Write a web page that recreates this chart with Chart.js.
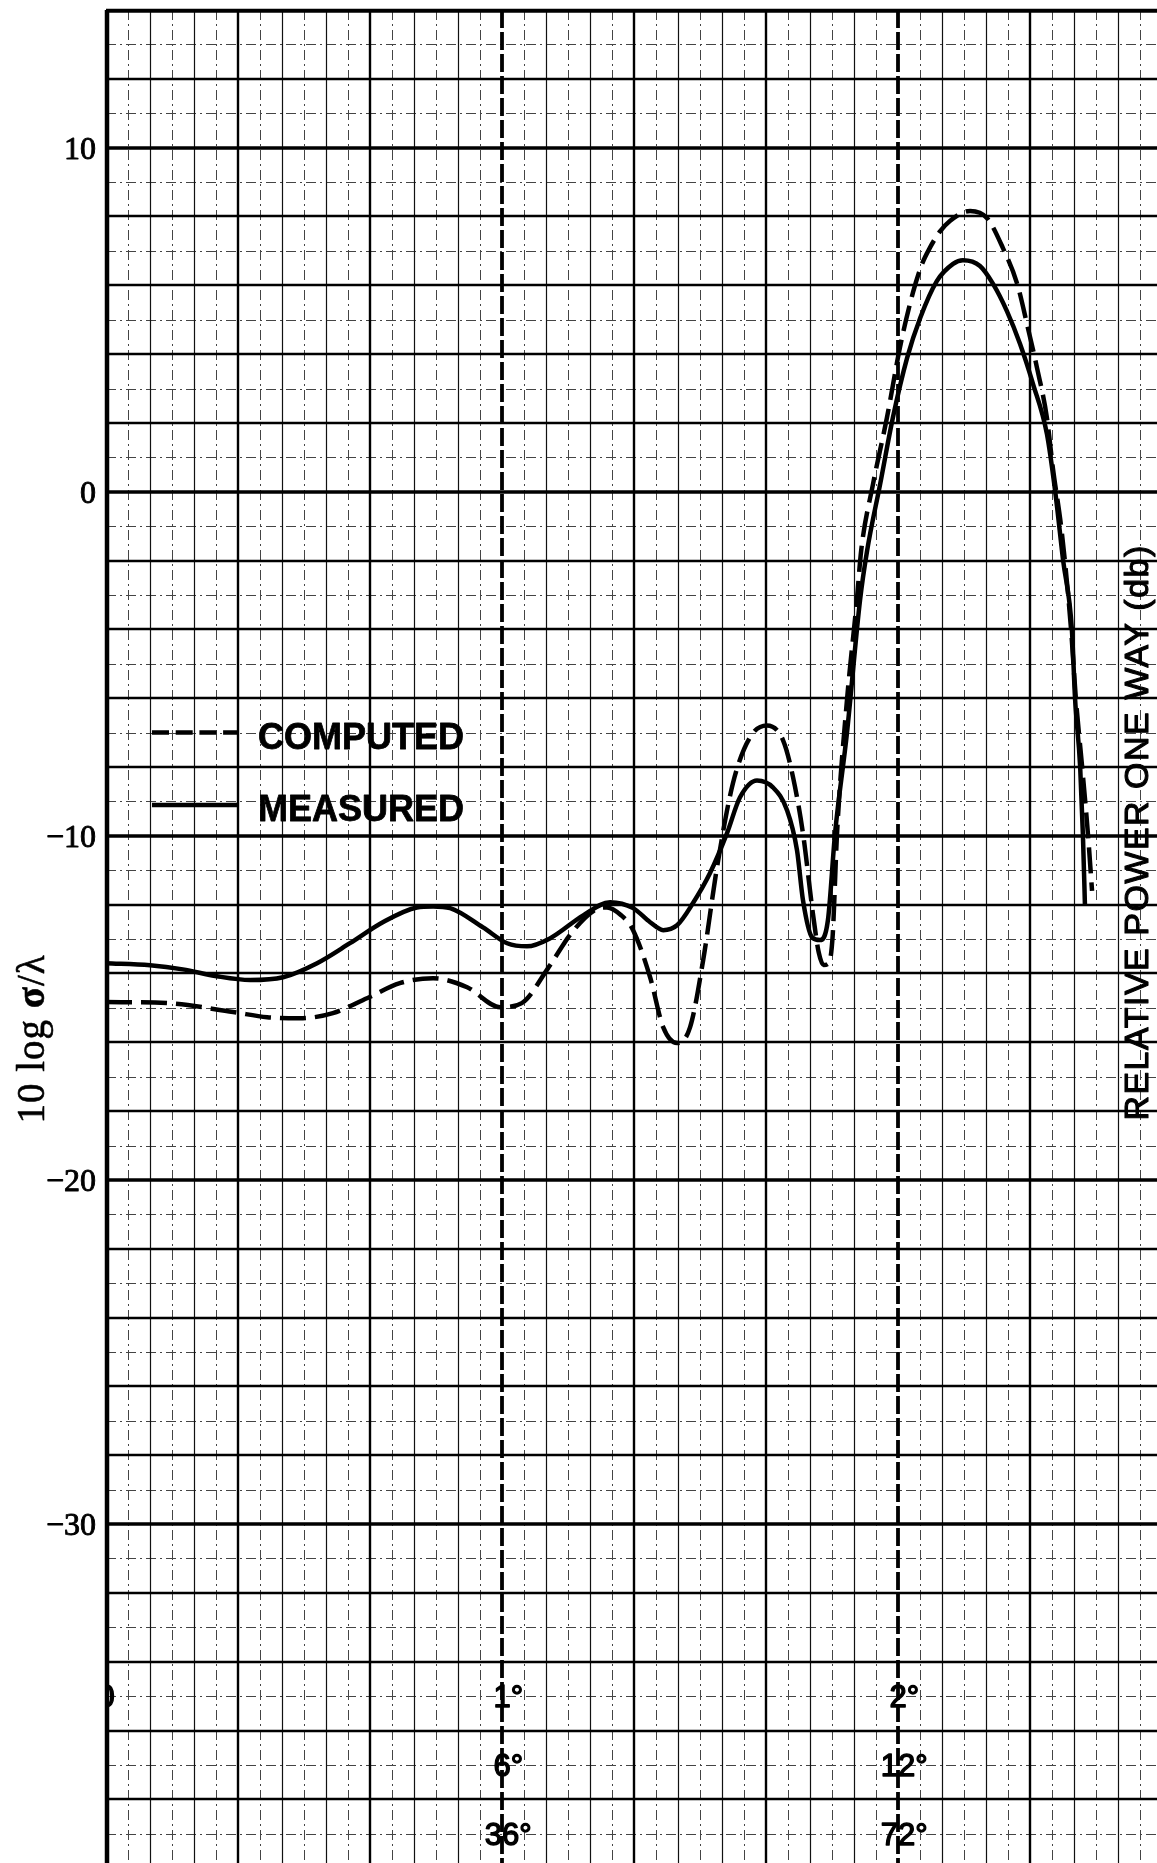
<!DOCTYPE html>
<html>
<head>
<meta charset="utf-8">
<title>10 log σ/λ — computed vs measured</title>
<script src="https://cdn.jsdelivr.net/npm/chart.js@4.4.1/dist/chart.umd.min.js"></script>
<style>
  html, body { margin: 0; padding: 0; background: #fff; }
  #wrap { width: 1157px; height: 1863px; position: relative; }
</style>
</head>
<body>
<div id="wrap"><canvas id="grafica"></canvas></div>
<script>
// Curva medida (linea continua): angulo en grados, nivel en dB
const anguloMedido = [0, 0.111, 0.194, 0.280, 0.364, 0.447, 0.533, 0.616, 0.699, 0.785,
    0.826, 0.869, 0.952, 1.013, 1.063, 1.121, 1.205, 1.273, 1.331, 1.374,
    1.407, 1.442, 1.482, 1.525, 1.568, 1.601, 1.644, 1.684, 1.720, 1.745,
    1.760, 1.783, 1.803, 1.823, 1.841, 1.871, 1.904, 1.922, 1.955, 1.987,
    2.023, 2.056, 2.098, 2.139, 2.164, 2.207, 2.240, 2.275, 2.308, 2.341,
    2.376, 2.397, 2.417, 2.439, 2.447, 2.460, 2.467, 2.472];
const nivelMedido = [-13.70, -13.76, -13.88, -14.08, -14.19, -14.11, -13.70, -13.12, -12.51, -12.08,
    -12.05, -12.10, -12.66, -13.12, -13.21, -12.98, -12.31, -11.93, -12.10, -12.51,
    -12.74, -12.60, -11.96, -11.09, -9.93, -8.88, -8.39, -8.59, -9.26, -10.42,
    -11.87, -12.95, -13.03, -12.45, -9.93, -7.02, -3.16, -1.71, 0.23, 2.15,
    3.89, 5.05, 6.12, 6.62, 6.73, 6.56, 6.04, 5.25, 4.30, 3.13,
    1.68, 0.0, -2.0, -4.0, -6.0, -8.0, -10.0, -12.0];

// Curva calculada (linea de trazos)
const anguloCalculado = [0, 0.154, 0.321, 0.407, 0.490, 0.573, 0.659, 0.742, 0.826, 0.912,
    0.995, 1.050, 1.116, 1.177, 1.235, 1.265, 1.300, 1.331, 1.374, 1.407,
    1.442, 1.475, 1.508, 1.543, 1.583, 1.626, 1.669, 1.710, 1.735, 1.760,
    1.785, 1.800, 1.812, 1.825, 1.835, 1.846, 1.871, 1.896, 1.907, 1.937,
    1.972, 2.005, 2.038, 2.060, 2.081, 2.105, 2.131, 2.182, 2.225, 2.265,
    2.301, 2.328, 2.351, 2.376, 2.391, 2.414, 2.437, 2.449, 2.465, 2.480,
    2.490];
const nivelCalculado = [-14.83, -14.86, -15.12, -15.27, -15.30, -15.15, -14.72, -14.28, -14.14, -14.40,
    -14.98, -14.86, -13.85, -12.80, -12.15, -12.08, -12.30, -12.74, -14.11, -15.56,
    -16.02, -15.56, -13.61, -10.91, -8.48, -7.14, -6.79, -7.23, -8.30, -9.93,
    -12.25, -13.40, -13.75, -13.70, -12.90, -9.93, -6.07, -3.16, -1.71, 0.23,
    2.15, 4.20, 5.80, 6.60, 7.10, 7.55, 7.87, 8.16, 7.95, 7.08,
    6.04, 4.76, 3.60, 2.15, 0.70, -1.22, -4.0, -6.0, -8.0, -10.0,
    -11.6];

// Etiquetas de los ejes
const ticksY = [10, 0, -10, -20, -30];
const ticksXPos = [0, 1, 2];
const ticksXFila1 = ['0', '1°', '2°'];
const ticksXFila2 = ['', '6°', '12°'];
const ticksXFila3 = ['', '36°', '72°'];

const leyenda = ['COMPUTED', 'MEASURED'];
const tituloY = ['10 log ', 'σ', '/λ'];
const tituloDerecha = 'RELATIVE POWER ONE WAY (db)';

function puntos(xs, ys) {
    return xs.map((x, i) => ({ x: x, y: ys[i] }));
}

// texto con un poco de trazo para que se vea como impreso
function textoGrueso(ctx, txt, x, y, grosor) {
    ctx.lineWidth = grosor;
    ctx.lineJoin = 'round';
    ctx.setLineDash([]);
    ctx.strokeText(txt, x, y);
    ctx.fillText(txt, x, y);
}

// Papel cuadriculado: 1 dB en vertical, 1/18 de grado en horizontal
const papelGrafico = {
    id: 'papelGrafico',
    beforeDatasetsDraw(chart) {
        const { ctx, chartArea: a, scales: { x, y } } = chart;
        ctx.save();
        ctx.beginPath();
        ctx.rect(a.left - 3, a.top - 3, a.right - a.left + 6, a.bottom - a.top + 6);
        ctx.clip();
        const linea = (x1, y1, x2, y2, w, dash, color) => {
            ctx.strokeStyle = color || '#000';
            ctx.lineWidth = w;
            ctx.setLineDash(dash);
            ctx.beginPath();
            ctx.moveTo(x1, y1);
            ctx.lineTo(x2, y2);
            ctx.stroke();
        };
        const vMin = Math.ceil(y.min), vMax = Math.floor(y.max);
        const kMax = Math.floor(x.max * 18);
        // lineas finas
        for (let v = vMin; v <= vMax; v++) {
            const py = Math.round(y.getPixelForValue(v)) + 0.5;
            if (v % 2 !== 0) linea(a.left, py, a.right, py, 1, [10, 4, 2, 4], '#444');
        }
        for (let k = 1; k <= kMax; k++) {
            const px = Math.round(x.getPixelForValue(k / 18)) + 0.5;
            if (k % 2 !== 0) linea(px, a.top, px, a.bottom, 1, [10, 4, 2, 4], '#444');
            else if (k % 6 !== 0) linea(px, a.top, px, a.bottom, 1.2, [], '#111');
        }
        for (let v = vMin; v <= vMax; v++) {
            const py = Math.round(y.getPixelForValue(v));
            if (v % 10 === 0) continue;
            if (v % 2 === 0) linea(a.left, py, a.right, py, 2.3, []);
        }
        for (let k = 6; k <= kMax; k += 6) {
            const px = Math.round(x.getPixelForValue(k / 18));
            if (k % 18 === 0) linea(px, a.top, px, a.bottom, 3.8, [18, 4]);
            else linea(px, a.top, px, a.bottom, 2.4, []);
        }
        // lineas gruesas cada 10 dB
        for (let v = vMin; v <= vMax; v++) {
            if (v % 10 !== 0) continue;
            const py = Math.round(y.getPixelForValue(v));
            linea(a.left, py, a.right, py, 3.4, []);
        }
        // bordes
        linea(a.left, a.top + 1, a.right, a.top + 1, 3.6, []);
        linea(a.left + 1, a.top, a.left + 1, a.bottom, 4.5, []);
        ctx.restore();
    }
};

const rotulos = {
    id: 'rotulos',
    afterDraw(chart) {
        const { ctx, chartArea: a, scales: { x, y } } = chart;
        ctx.save();
        ctx.fillStyle = '#000';
        ctx.strokeStyle = '#000';

        // numeros del eje Y
        ctx.font = '32px "Liberation Serif"';
        ctx.textAlign = 'right';
        ctx.textBaseline = 'alphabetic';
        ticksY.forEach(v => {
            const txt = v < 0 ? '\u2212' + Math.abs(v) : String(v);
            textoGrueso(ctx, txt, a.left - 10, y.getPixelForValue(v) + 11, 0.9);
        });

        // titulo del eje Y (sigma en negrita)
        ctx.save();
        ctx.translate(44, y.getPixelForValue(-15.9));
        ctx.rotate(-Math.PI / 2);
        ctx.textAlign = 'left';
        ctx.letterSpacing = '1px';
        const fuentes = ['39px "Liberation Serif"', 'bold 39px "Liberation Serif"', '39px "Liberation Serif"'];
        let total = 0;
        tituloY.forEach((t, i) => { ctx.font = fuentes[i]; total += ctx.measureText(t).width; });
        let cx = -total / 2;
        tituloY.forEach((t, i) => {
            ctx.font = fuentes[i];
            textoGrueso(ctx, t, cx, 0, 0.6);
            cx += ctx.measureText(t).width;
        });
        ctx.restore();

        // titulo de la derecha
        ctx.save();
        ctx.translate(1148, y.getPixelForValue(-9.9));
        ctx.rotate(-Math.PI / 2);
        ctx.font = '34px "Liberation Sans"';
        ctx.letterSpacing = '1.5px';
        ctx.textAlign = 'center';
        textoGrueso(ctx, tituloDerecha, 0, 0, 1.1);
        ctx.restore();

        // etiquetas del eje X dentro de la grafica
        ctx.save();
        ctx.beginPath();
        ctx.rect(a.left + 2, a.top, a.right - a.left, a.bottom - a.top);
        ctx.clip();
        ctx.font = '31px "Liberation Sans"';
        ctx.textAlign = 'left';
        const niveles = [-35, -37, -39];
        [ticksXFila1, ticksXFila2, ticksXFila3].forEach((fila, r) => {
            fila.forEach((txt, i) => {
                if (!txt) return;
                const num = txt.replace('°', '');
                const w = ctx.measureText(num).width;
                const px = x.getPixelForValue(ticksXPos[i]);
                const py = y.getPixelForValue(niveles[r]) + 11;
                textoGrueso(ctx, txt, px - w / 2, py, 1.4);
            });
        });
        ctx.restore();

        // leyenda
        const ds = chart.data.datasets;
        const xa = a.left + 46, xb = a.left + 132;
        [-7.0, -9.1].forEach((nivel, i) => {
            const py = y.getPixelForValue(nivel);
            ctx.lineWidth = ds[i].borderWidth;
            ctx.setLineDash(i === 0 ? [17, 6.7] : []);
            ctx.beginPath();
            ctx.moveTo(xa, py);
            ctx.lineTo(xb, py);
            ctx.stroke();
            ctx.font = 'bold 36px "Liberation Sans"';
            ctx.textAlign = 'left';
            textoGrueso(ctx, leyenda[i], a.left + 152, py + 16, 0.8);
        });
        ctx.restore();
    }
};

const ctx = document.getElementById('grafica').getContext('2d');
new Chart(ctx, {
    type: 'line',
    data: {
        datasets: [{
            label: leyenda[0],
            data: puntos(anguloCalculado, nivelCalculado),
            borderColor: '#000',
            borderWidth: 4.5,
            borderDash: [26, 9],
            pointRadius: 0,
            cubicInterpolationMode: 'monotone',
            fill: false
        }, {
            label: leyenda[1],
            data: puntos(anguloMedido, nivelMedido),
            borderColor: '#000',
            borderWidth: 4.5,
            pointRadius: 0,
            cubicInterpolationMode: 'monotone',
            fill: false
        }]
    },
    options: {
        responsive: true,
        maintainAspectRatio: false,
        animation: false,
        layout: { padding: { top: 10, left: 106, right: 0, bottom: 0 } },
        plugins: {
            legend: { display: false },
            tooltip: { enabled: false }
        },
        scales: {
            x: { type: 'linear', min: 0, max: 2.654, display: false },
            y: { type: 'linear', min: -39.85, max: 14, display: false }
        }
    },
    plugins: [papelGrafico, rotulos]
});
</script>
</body>
</html>
